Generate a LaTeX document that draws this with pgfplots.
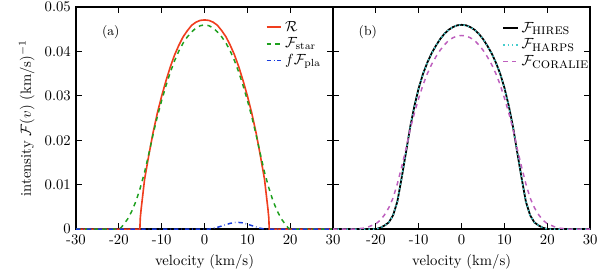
\documentclass[border=0pt]{standalone}
\usepackage{pgfplots}
\pgfplotsset{compat=1.18}
\definecolor{cR}{RGB}{240,62,30}
\definecolor{cG}{RGB}{30,160,30}
\definecolor{cB}{RGB}{25,60,220}
\definecolor{cC}{RGB}{70,205,205}
\definecolor{cM}{RGB}{190,95,190}
\pgfplotsset{
  every axis/.append style={
    scale only axis, width=174.8pt, height=151pt,
    xmin=-30, xmax=30, ymin=0, ymax=0.05,
    xtick={-30,-20,-10,0,10,20,30},
    ytick={0,0.01,0.02,0.03,0.04,0.05},
    scaled y ticks=false,
    /pgf/number format/assume math mode=true,
    yticklabel style={/pgf/number format/fixed,/pgf/number format/precision=2},
    tick align=inside, major tick length=4pt,
    tick style={line width=0.6pt, black},
    axis line style={line width=0.9pt},
    xlabel={velocity (km/s)},
    legend style={draw=none, fill=none, row sep=-1pt},
    legend cell align=left,
    legend image code/.code={\draw[#1] (0cm,0cm) -- (0.35cm,0cm);},
  }
}
\begin{document}
\begin{tikzpicture}
\begin{axis}[name=left,
  ylabel={intensity $\mathcal{F}(v)$ (km/s)$^{-1}$},
  legend style={at={(0.72,0.965)}, anchor=north west},
]
\addplot[cR, line width=1.1pt] coordinates {
(-30,0) (-15.1,0) (-15.1,0.0000) (-15,0.0025) (-14.8,0.0045) (-14.5,0.0070) (-14,0.0112) (-13,0.0167) (-12,0.0218) (-11,0.0262) (-10,0.0300) (-9,0.0334) (-8,0.0365) (-7,0.0392) (-6,0.0414) (-5,0.0433) (-4,0.0447) (-3,0.0459) (-2,0.0466) (-1,0.0470) (0,0.0471)
(1,0.0470) (2,0.0466) (3,0.0459) (4,0.0447) (5,0.0433) (6,0.0414) (7,0.0392) (8,0.0365) (9,0.0334) (10,0.0300) (11,0.0262) (12,0.0218) (13,0.0167) (14,0.0112) (14.5,0.0070) (14.8,0.0045) (15,0.0025) (15.1,0) (30,0)};
\addlegendentry{$\mathcal{R}$}
\addplot[cG, dashed, line width=1.0pt] coordinates {
(-30,0) (-20,0) (-19.5,0.0003) (-19,0.0009) (-18,0.0022) (-17,0.0040) (-16,0.0063) (-15,0.0093) (-14,0.0128) (-13,0.0170) (-12,0.0214) (-11,0.0254) (-10,0.0290) (-9,0.0323) (-8,0.0353) (-7,0.0379) (-6,0.0401) (-5,0.0419) (-4,0.0433) (-3,0.0444) (-2,0.0453) (-1,0.0458) (0,0.0460)
(1,0.0458) (2,0.0453) (3,0.0444) (4,0.0433) (5,0.0419) (6,0.0401) (7,0.0379) (8,0.0353) (9,0.0323) (10,0.0290) (11,0.0254) (12,0.0214) (13,0.0170) (14,0.0128) (15,0.0093) (16,0.0063) (17,0.0040) (18,0.0022) (19,0.0009) (19.5,0.0003) (20,0) (30,0)};
\addlegendentry{$\mathcal{F}_\mathrm{star}$}
\addplot[cB, dash dot, line width=1.0pt] coordinates {
(-30,0) (1,0) (2,0.0002) (3,0.0004) (4,0.0007) (5,0.0010) (6,0.0013) (7,0.0015) (7.5,0.00155) (8,0.0015) (9,0.0014) (10,0.0011) (11,0.0008) (12,0.0005) (13,0.0002) (14,0) (30,0)};
\addlegendentry{$f\mathcal{F}_\mathrm{pla}$}
\node[font=\small] at (axis description cs:0.135,0.887) {(a)};
\end{axis}
\begin{axis}[at={(174.8pt,0)},
  yticklabels={},
  xticklabels={,-20,-10,0,10,20,30},
  legend style={at={(0.64,0.96)}, anchor=north west},
]
\addplot[black, line width=1.2pt] coordinates {
(-30,0) (-20,0) (-19,0.0003) (-18,0.0008) (-17,0.0015) (-16,0.0031) (-15,0.0062) (-14,0.0115) (-13,0.0172) (-12,0.0230) (-11,0.0278) (-10,0.0318) (-9,0.0350) (-8,0.0375) (-7,0.0396) (-6,0.0413) (-5,0.0428) (-4,0.0440) (-3,0.0449) (-2,0.0455) (-1,0.0459) (0,0.0460)
(1,0.0459) (2,0.0455) (3,0.0449) (4,0.0440) (5,0.0428) (6,0.0413) (7,0.0396) (8,0.0375) (9,0.0350) (10,0.0318) (11,0.0278) (12,0.0230) (13,0.0172) (14,0.0115) (15,0.0062) (16,0.0031) (17,0.0015) (18,0.0008) (19,0.0003) (20,0) (30,0)};
\addlegendentry{$\mathcal{F}_{\textsc{hires}}$}
\addplot[cC, dotted, line width=1.0pt] coordinates {
(-30,0) (-20,0) (-19,0.0003) (-18,0.0008) (-17,0.0015) (-16,0.0031) (-15,0.0062) (-14,0.0115) (-13,0.0172) (-12,0.0230) (-11,0.0278) (-10,0.0318) (-9,0.0350) (-8,0.0375) (-7,0.0396) (-6,0.0413) (-5,0.0428) (-4,0.0440) (-3,0.0449) (-2,0.0455) (-1,0.0459) (0,0.0460)
(1,0.0459) (2,0.0455) (3,0.0449) (4,0.0440) (5,0.0428) (6,0.0413) (7,0.0396) (8,0.0375) (9,0.0350) (10,0.0318) (11,0.0278) (12,0.0230) (13,0.0172) (14,0.0115) (15,0.0062) (16,0.0031) (17,0.0015) (18,0.0008) (19,0.0003) (20,0) (30,0)};
\addlegendentry{$\mathcal{F}_{\textsc{harps}}$}
\addplot[cM, dashed, line width=1.0pt] coordinates {
(-30,0) (-25,0) (-24,0.0001) (-23,0.0002) (-22,0.0004) (-21,0.0008) (-20,0.0012) (-19,0.0020) (-18,0.0032) (-17,0.0048) (-16,0.0070) (-15,0.0102) (-14,0.0140) (-13,0.0180) (-12,0.0225) (-11,0.0262) (-10,0.0295) (-9,0.0325) (-8,0.0350) (-7,0.0371) (-6,0.0388) (-5,0.0403) (-4,0.0415) (-3,0.0425) (-2,0.0431) (-1,0.0435) (0,0.0436)
(1,0.0435) (2,0.0431) (3,0.0425) (4,0.0415) (5,0.0403) (6,0.0388) (7,0.0371) (8,0.0350) (9,0.0325) (10,0.0295) (11,0.0262) (12,0.0225) (13,0.0180) (14,0.0140) (15,0.0102) (16,0.0070) (17,0.0048) (18,0.0032) (19,0.0020) (20,0.0012) (21,0.0008) (22,0.0004) (23,0.0002) (24,0.0001) (25,0) (30,0)};
\addlegendentry{$\mathcal{F}_{\textsc{coralie}}$}
\node[font=\small] at (axis description cs:0.135,0.887) {(b)};
\end{axis}
\pgfresetboundingbox
\path (-51.7pt,-30.6pt) rectangle (356.3pt,155.8pt);
\end{tikzpicture}
\end{document}
